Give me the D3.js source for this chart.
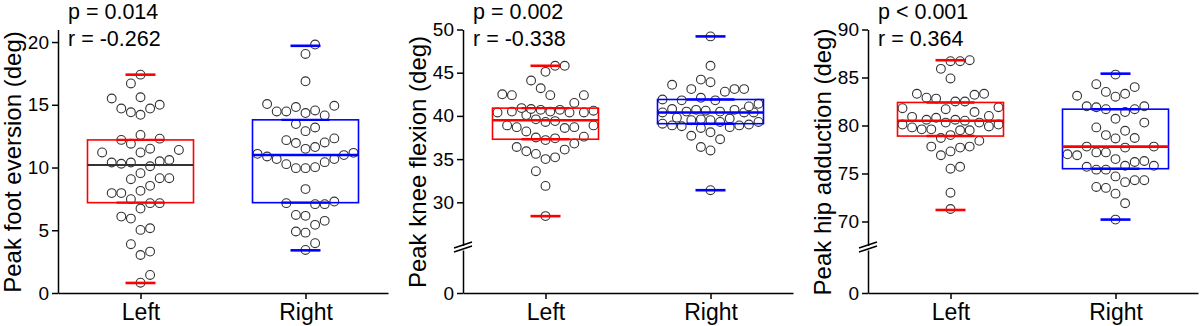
<!DOCTYPE html>
<html>
<head>
<meta charset="utf-8">
<script src="https://cdn.jsdelivr.net/npm/d3@7"></script>
<style>
  body { margin: 0; background: #fff; }
  svg text { font-family: "Liberation Sans", Arial, sans-serif; fill: #000; }
</style>
</head>
<body>
<svg id="chart" width="1200" height="326"></svg>
<script>
// ---- data -------------------------------------------------------------
const groups = ["Left", "Right"];

const footLeft = [17.4, 16.7, 15.6, 15.5, 15.0, 14.7, 14.7, 14.4, 14.2, 12.6, 12.3, 12.2, 11.9, 11.5, 11.4,
  11.2, 11.2, 10.4, 10.4, 10.5, 10.6, 10.3, 10.1, 9.55, 9.15, 9.15, 9.07, 8.54, 7.96, 7.96, 8.14, 7.16,
  7.16, 7.48, 6.73, 6.09, 5.93, 5.16, 5.03, 3.89, 3.3, 3.03, 1.44, 0.82];
const footRight = [19.8, 19.05, 16.87, 14.92, 15.06, 14.82, 14.55, 14.47, 14.47, 14.34, 14.15, 13.19, 13.46,
  12.9, 12.18, 12.32, 12.0, 11.95, 11.49, 11.63, 11.17, 11.09, 10.99, 10.88, 10.67, 10.67, 10.43, 10.27,
  10.03, 9.95, 9.95, 8.28, 7.16, 7.08, 7.29, 7.08, 6.15, 6.22, 5.43, 5.75, 4.81, 4.9, 3.97, 3.43];

const kneeLeft = [45.8, 45.8, 45.1, 44.1, 43.2, 42.5, 42.4, 42.4, 42.4, 41.5, 40.9, 40.6, 40.1, 40.5, 40.4,
  40.5, 40.4, 40.7, 40.4, 40.7, 40.8, 39.6, 39.4, 39.3, 38.9, 38.2, 38.7, 38.9, 38.6, 38.7, 37.6, 37.5,
  37.2, 37.4, 36.8, 36.4, 36.1, 35.9, 35.6, 35.2, 35.0, 33.6, 31.9, 28.4];
const kneeRight = [49.2, 45.8, 44.2, 43.9, 43.6, 43.1, 43.1, 43.1, 42.8, 42.1, 41.9, 41.8, 41.8, 41.4, 41.1,
  40.8, 40.7, 40.7, 40.6, 40.5, 40.5, 40.4, 40.4, 40.4, 39.8, 39.7, 39.6, 39.5, 39.5, 39.3, 39.3, 39.1,
  39.0, 38.9, 38.9, 38.8, 38.7, 38.6, 38.1, 37.7, 37.3, 36.4, 36.0, 31.4];

const hipLeft = [86.8, 86.7, 86.7, 85.9, 84.9, 83.3, 83.3, 83.2, 82.5, 82.8, 82.5, 82.9, 81.9, 81.7, 81.4,
  81.8, 80.6, 80.3, 80.5, 80.3, 80.6, 80.9, 81.0, 80.8, 80.1, 79.8, 79.5, 79.9, 79.5, 80.1, 79.6, 79.6,
  79.0, 78.7, 78.4, 77.8, 77.8, 77.7, 77.3, 76.9, 75.5, 75.7, 73.0, 71.3];
const hipRight = [85.3, 84.3, 84.0, 83.5, 83.3, 83.1, 83.0, 82.0, 81.7, 81.7, 81.9, 82.0, 81.4, 80.7, 80.3,
  79.8, 79.45, 78.65, 79.0, 78.7, 77.8, 77.7, 77.2, 77.8, 77.2, 76.5, 76.2, 76.3, 75.8, 76.9, 77.0, 75.7,
  75.8, 75.4, 75.4, 74.7, 74.3, 74.3, 73.6, 73.5, 74.1, 72.9, 71.9, 70.2];

// box summaries: [min, q1, median, q3, max]
const footLeftBox = [0.8, 7.2, 10.2, 12.2, 17.4];
const footRightBox = [3.4, 7.2, 11.0, 13.8, 19.7];
const kneeLeftBox = [28.4, 37.3, 39.5, 40.9, 45.8];
const kneeRightBox = [31.4, 39.1, 40.4, 41.9, 49.2];
const hipLeftBox = [71.2, 78.9, 80.5, 82.4, 86.8];
const hipRightBox = [70.2, 75.5, 77.8, 81.7, 85.4];

const footTicks = [0, 5, 10, 15, 20];
const kneeTicks = [30, 35, 40, 45, 50];
const hipTicks = [70, 75, 80, 85, 90];

const yTitles = ["Peak foot eversion (deg)", "Peak knee flexion (deg)", "Peak hip adduction (deg)"];
const pLabels = ["p = 0.014", "p = 0.002", "p < 0.001"];
const rLabels = ["r = -0.262", "r = -0.338", "r = 0.364"];

// ---- layout -----------------------------------------------------------
const RED = "#ff0000", BLUE = "#0000ff", DARK = "#333333";
const baseY = 293, topY = 29.5, breakY = 245.5, lowerTop = 250;
const axisW = 330, D = 9.6, R = 4.4, MAXK = 10;

const panels = [
  { x0: 58, sets: [footLeft, footRight], boxes: [footLeftBox, footRightBox], ticks: footTicks,
    domain: [0, 21], broken: false, medColors: [DARK, BLUE], medWidths: [1.8, 2.6] },
  { x0: 463, sets: [kneeLeft, kneeRight], boxes: [kneeLeftBox, kneeRightBox], ticks: kneeTicks,
    domain: [25, 50], broken: true, medColors: [RED, BLUE], medWidths: [2.6, 2.6] },
  { x0: 868, sets: [hipLeft, hipRight], boxes: [hipLeftBox, hipRightBox], ticks: hipTicks,
    domain: [67.5, 90], broken: true, medColors: [RED, RED], medWidths: [2.6, 2.6] }
];
const boxColors = [RED, BLUE];

// row-style swarm on a half-diameter grid: each point takes the free slot
// nearest the centre; points in the same band must sit a diameter apart.
// The spread is capped, and a crowded band falls back to the least-crowded slot.
function swarm(values, y, cx) {
  const order = values.map((v, i) => i).sort((a, b) => values[a] - values[b]);
  const placed = [];
  order.forEach((i, n) => {
    const py = y(values[i]);
    let hit = null;
    for (let k = 0; k <= MAXK && hit === null; k++) {
      const cands = k === 0 ? [0] : (n % 2 ? [k, -k] : [-k, k]);
      for (const c of cands) {
        const px = cx + c * D / 2;
        const free = placed.every(p => Math.abs(p.x - px) >= D * 0.98 || Math.abs(p.y - py) >= D * 1.7);
        if (free) { hit = px; break; }
      }
    }
    if (hit === null) {
      let best = -Infinity;
      for (let c = -MAXK; c <= MAXK; c++) {
        const px = cx + c * D / 2;
        const s = d3.min(placed, p => Math.hypot(p.x - px, p.y - py)) - Math.abs(c) * 0.01;
        if (s > best) { best = s; hit = px; }
      }
    }
    placed.push({ x: hit, y: py, v: values[i] });
  });
  return placed;
}

const svg = d3.select("#chart");

panels.forEach((P, pi) => {
  const g = svg.append("g");
  const x = d3.scalePoint().domain(groups).range([P.x0, P.x0 + axisW]).padding(0.5);
  const y = d3.scaleLinear().domain(P.domain).range([P.broken ? breakY : baseY, topY]);

  // points
  P.sets.forEach((vals, gi) => {
    const pts = swarm(vals, y, x(groups[gi]));
    g.append("g").selectAll("circle").data(pts).join("circle")
      .attr("cx", d => d.x).attr("cy", d => d.y).attr("r", R)
      .attr("fill", "#fff").attr("stroke", DARK).attr("stroke-width", 1.1);
  });

  // boxes, quartile bars, medians, extreme caps
  P.boxes.forEach((b, gi) => {
    const cx = x(groups[gi]), col = boxColors[gi];
    const bw = 106, qw = 48, cw = 30;
    g.append("rect")
      .attr("x", cx - bw / 2).attr("y", y(b[3]))
      .attr("width", bw).attr("height", y(b[1]) - y(b[3]))
      .attr("fill", "none").attr("stroke", col).attr("stroke-width", 1.6);
    [b[1], b[3]].forEach(q => {
      g.append("line").attr("x1", cx - qw / 2).attr("x2", cx + qw / 2)
        .attr("y1", y(q)).attr("y2", y(q)).attr("stroke", col).attr("stroke-width", 2.4);
    });
    g.append("line").attr("x1", cx - bw / 2).attr("x2", cx + bw / 2)
      .attr("y1", y(b[2])).attr("y2", y(b[2]))
      .attr("stroke", P.medColors[gi]).attr("stroke-width", P.medWidths[gi]);
    [b[0], b[4]].forEach(v => {
      g.append("line").attr("x1", cx - cw / 2).attr("x2", cx + cw / 2)
        .attr("y1", y(v)).attr("y2", y(v)).attr("stroke", col).attr("stroke-width", 2.6);
    });
  });

  // y axis (upper part)
  const yAxis = g.append("g").attr("transform", `translate(${P.x0},0)`)
    .call(d3.axisLeft(y).tickValues(P.ticks).tickSize(6).tickSizeOuter(0).tickPadding(3).tickFormat(d3.format("d")));

  // lower part of a broken axis, carrying only the zero tick
  let yLow = null;
  if (P.broken) {
    const lowScale = d3.scaleLinear().domain([0, 1]).range([baseY, lowerTop]);
    yLow = g.append("g").attr("transform", `translate(${P.x0},0)`)
      .call(d3.axisLeft(lowScale).tickValues([0]).tickSize(6).tickSizeOuter(0).tickPadding(3).tickFormat(d3.format("d")));
    // break marks
    [breakY - 0.5, breakY + 3.5].forEach(by => {
      g.append("line").attr("x1", P.x0 - 9).attr("y1", by + 3).attr("x2", P.x0 + 9).attr("y2", by - 3)
        .attr("stroke", "#000").attr("stroke-width", 1.4);
    });
  }

  // x axis
  const xAxis = g.append("g").attr("transform", `translate(0,${baseY})`)
    .call(d3.axisBottom(x).tickSize(6).tickSizeOuter(0).tickPadding(5));

  [yAxis, yLow, xAxis].filter(Boolean).forEach(a => {
    a.attr("font-family", null);
    a.selectAll(".domain").attr("stroke", "#000").attr("stroke-width", 1.5);
    a.selectAll(".tick line").attr("stroke", "#000").attr("stroke-width", 1.5);
  });
  [yAxis, yLow].filter(Boolean).forEach(a => a.selectAll("text").attr("font-size", 19));
  xAxis.selectAll("text").attr("font-size", 23);

  // axis title
  g.append("text")
    .attr("transform", `translate(${P.x0 - 37},162) rotate(-90)`)
    .attr("text-anchor", "middle").attr("font-size", 24)
    .text(yTitles[pi]);

  // statistics
  g.append("text").attr("x", P.x0 + 10).attr("y", 19).attr("font-size", 21.5).text(pLabels[pi]);
  g.append("text").attr("x", P.x0 + 10).attr("y", 45.5).attr("font-size", 21.5).text(rLabels[pi]);
});
</script>
</body>
</html>
